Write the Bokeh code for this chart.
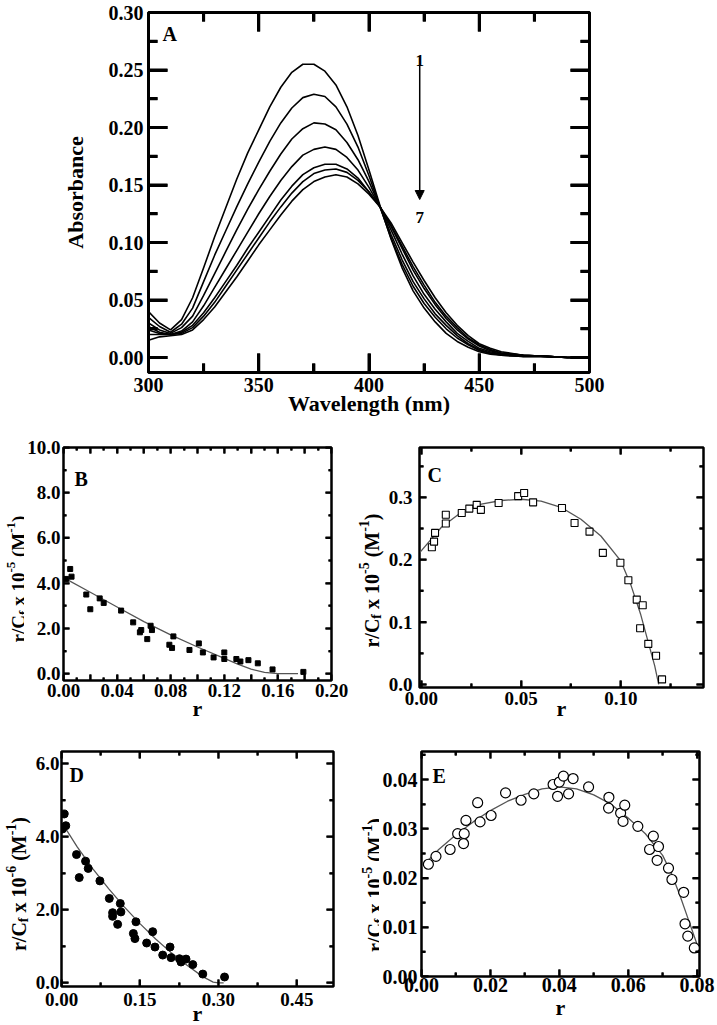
import math
from bokeh.plotting import figure
from bokeh.models import (Range1d, FixedTicker, Label, Arrow, NormalHead, PrintfTickFormatter,
                          LinearAxis)
from bokeh.core.properties import value
from bokeh.layouts import column, row
from bokeh.embed import file_html
from bokeh.resources import INLINE

FONT = "Liberation Serif"

# ---------------- Panel A : absorption spectra ----------------
wavelength = [300, 305, 310, 315, 320, 325, 330, 335, 340, 345, 350, 355, 360, 365, 370,
              375, 380, 385, 390, 395, 400, 405, 410, 415, 420, 425, 430, 435, 440, 445,
              450, 455, 460, 470, 480, 490, 500]
abs_1 = [0.040, 0.030, 0.024, 0.033, 0.052, 0.078, 0.105, 0.130, 0.155, 0.178, 0.198, 0.218,
         0.235, 0.248, 0.255, 0.255, 0.249, 0.237, 0.218, 0.193, 0.163, 0.132, 0.103, 0.078,
         0.058, 0.043, 0.031, 0.021, 0.014, 0.009, 0.005, 0.003, 0.002, 0.001, 0.001, 0.0, 0.0]
abs_2 = [0.035, 0.027, 0.022, 0.029, 0.043, 0.066, 0.089, 0.110, 0.131, 0.151, 0.170, 0.188,
         0.204, 0.217, 0.226, 0.229, 0.227, 0.218, 0.203, 0.183, 0.158, 0.131, 0.104, 0.081,
         0.062, 0.047, 0.035, 0.025, 0.017, 0.011, 0.006, 0.004, 0.002, 0.001, 0.001, 0.0, 0.0]
abs_3 = [0.030, 0.024, 0.021, 0.026, 0.036, 0.054, 0.073, 0.092, 0.111, 0.129, 0.146, 0.162,
         0.177, 0.190, 0.199, 0.204, 0.203, 0.198, 0.187, 0.172, 0.153, 0.131, 0.107, 0.085,
         0.066, 0.051, 0.038, 0.028, 0.019, 0.012, 0.007, 0.004, 0.003, 0.001, 0.001, 0.0, 0.0]
abs_4 = [0.027, 0.022, 0.020, 0.023, 0.031, 0.045, 0.061, 0.077, 0.093, 0.109, 0.125, 0.140,
         0.154, 0.166, 0.176, 0.181, 0.183, 0.181, 0.174, 0.163, 0.148, 0.131, 0.111, 0.090,
         0.071, 0.055, 0.042, 0.031, 0.021, 0.014, 0.008, 0.005, 0.003, 0.002, 0.001, 0.0, 0.0]
abs_5 = [0.024, 0.021, 0.020, 0.022, 0.028, 0.039, 0.052, 0.066, 0.080, 0.095, 0.109, 0.123,
         0.137, 0.149, 0.159, 0.165, 0.168, 0.168, 0.164, 0.156, 0.144, 0.131, 0.114, 0.095,
         0.076, 0.060, 0.046, 0.034, 0.024, 0.016, 0.010, 0.006, 0.004, 0.002, 0.001, 0.0, 0.0]
abs_6 = [0.020, 0.020, 0.020, 0.021, 0.026, 0.036, 0.048, 0.062, 0.076, 0.090, 0.104, 0.118,
         0.131, 0.143, 0.153, 0.160, 0.163, 0.164, 0.161, 0.154, 0.144, 0.131, 0.115, 0.097,
         0.079, 0.063, 0.048, 0.036, 0.026, 0.017, 0.011, 0.007, 0.004, 0.002, 0.001, 0.0, 0.0]
abs_7 = [0.015, 0.018, 0.019, 0.020, 0.024, 0.033, 0.044, 0.057, 0.070, 0.084, 0.098, 0.111,
         0.124, 0.136, 0.146, 0.153, 0.157, 0.159, 0.157, 0.151, 0.142, 0.131, 0.117, 0.100,
         0.083, 0.067, 0.052, 0.039, 0.028, 0.019, 0.012, 0.008, 0.005, 0.002, 0.001, 0.0, 0.0]
spectra = [abs_1, abs_2, abs_3, abs_4, abs_5, abs_6, abs_7]
arrow_wl = 423
arrow_from, arrow_to = 0.2538, 0.1374
label_1_y, label_7_y = 0.258, 0.1214
A_xticks, A_xminor = [300, 350, 400, 450, 500], [325, 375, 425, 475]
A_yticks = [0.0, 0.05, 0.10, 0.15, 0.20, 0.25, 0.30]
A_yminor = [0.025, 0.075, 0.125, 0.175, 0.225, 0.275]

# ---------------- Panel B ----------------
r_B = [0.002, 0.005, 0.006, 0.017, 0.020, 0.027, 0.030, 0.043, 0.052, 0.057, 0.058, 0.0625,
       0.065, 0.066, 0.079, 0.081, 0.082, 0.094, 0.101, 0.104, 0.112, 0.120, 0.120, 0.129,
       0.132, 0.138, 0.145, 0.156, 0.179]
y_B = [4.19, 4.63, 4.29, 3.50, 2.85, 3.33, 3.13, 2.79, 2.27, 1.83, 1.93, 1.53, 2.12, 1.93,
       1.28, 1.14, 1.65, 1.05, 1.34, 0.94, 0.72, 0.94, 0.65, 0.65, 0.54, 0.60, 0.46, 0.19, 0.08]
r_B_fit = [0.0, 0.02, 0.04, 0.06, 0.08, 0.10, 0.12, 0.13, 0.14, 0.15, 0.16, 0.175]
y_B_fit = [4.25, 3.6, 2.95, 2.3, 1.72, 1.18, 0.68, 0.42, 0.2, 0.06, 0.005, 0.0]
B_xmajor = [0.0, 0.02, 0.04, 0.06, 0.08, 0.10, 0.12, 0.14, 0.16, 0.18, 0.20]
B_xunlabelled = [0.02, 0.06, 0.10, 0.14, 0.18]
B_xminor = [0.01, 0.03, 0.05, 0.07, 0.09, 0.11, 0.13, 0.15, 0.17, 0.19]
B_yticks, B_yminor = [0.0, 2.0, 4.0, 6.0, 8.0, 10.0], [1.0, 3.0, 5.0, 7.0, 9.0]

# ---------------- Panel C ----------------
r_C = [0.0052, 0.0063, 0.0068, 0.0122, 0.0122, 0.0202, 0.024, 0.0277, 0.0298, 0.0387, 0.0485,
       0.0515, 0.056, 0.0705, 0.0768, 0.0843, 0.091, 0.0998, 0.1038, 0.108, 0.111, 0.1097,
       0.1138, 0.1177, 0.1207]
y_C = [0.220, 0.229, 0.243, 0.272, 0.258, 0.275, 0.282, 0.288, 0.280, 0.291, 0.302, 0.307,
       0.292, 0.283, 0.259, 0.245, 0.211, 0.195, 0.167, 0.136, 0.127, 0.090, 0.065, 0.046, 0.008]
r_C_fit = [-0.001, 0.01, 0.02, 0.03, 0.04, 0.05, 0.06, 0.07, 0.08, 0.09, 0.10, 0.105, 0.11,
           0.114, 0.117, 0.119]
y_C_fit = [0.211, 0.252, 0.276, 0.289, 0.295, 0.297, 0.294, 0.284, 0.265, 0.238, 0.198, 0.160,
           0.112, 0.065, 0.030, 0.0]
C_xticks, C_xminor = [0.0, 0.05, 0.10], [0.025, 0.075, 0.125]
C_yticks, C_yminor = [0.0, 0.1, 0.2, 0.3], [0.05, 0.15, 0.25, 0.35]

# ---------------- Panel D ----------------
r_D = [0.0052, 0.0082, 0.0019, 0.0287, 0.0339, 0.046, 0.0511, 0.0734, 0.0914, 0.0977, 0.0977,
       0.1073, 0.1124, 0.1136, 0.1374, 0.1404, 0.1423, 0.1628, 0.1743, 0.1787, 0.1935, 0.2075,
       0.2094, 0.2255, 0.2285, 0.2381, 0.251, 0.2701, 0.3117]
y_D = [4.62, 4.30, 4.21, 3.51, 2.88, 3.33, 3.13, 2.79, 2.31, 1.92, 1.82, 1.60, 2.17, 1.94,
       1.35, 1.21, 1.67, 1.09, 1.40, 0.98, 0.76, 0.98, 0.69, 0.66, 0.57, 0.65, 0.50, 0.24, 0.16]
r_D_fit = [0.0, 0.03, 0.06, 0.09, 0.12, 0.15, 0.18, 0.21, 0.24, 0.27, 0.29, 0.30, 0.31]
y_D_fit = [4.4, 3.72, 3.12, 2.58, 2.08, 1.62, 1.2, 0.82, 0.48, 0.17, 0.02, 0.0, 0.0]
D_xticks, D_xminor = [0.0, 0.15, 0.30, 0.45], [0.075, 0.225, 0.375]
D_yticks, D_yminor = [0.0, 2.0, 4.0, 6.0], [1.0, 3.0, 5.0]

# ---------------- Panel E ----------------
r_E = [0.0020, 0.0042, 0.0083, 0.0105, 0.0124, 0.0122, 0.0129, 0.0163, 0.0170, 0.0202, 0.0244,
       0.0289, 0.0326, 0.0382, 0.0395, 0.0400, 0.0412, 0.0427, 0.0440, 0.0485, 0.0544, 0.0543,
       0.0578, 0.0590, 0.0585, 0.0628, 0.0662, 0.0673, 0.0688, 0.0684, 0.0717, 0.0727, 0.0761,
       0.0765, 0.0773, 0.0792]
y_E = [0.0228, 0.0244, 0.0258, 0.0290, 0.0290, 0.0270, 0.0317, 0.0353, 0.0314, 0.0327, 0.0373,
       0.0358, 0.0371, 0.0390, 0.0366, 0.0395, 0.0407, 0.0371, 0.0402, 0.0385, 0.0364, 0.0342,
       0.0332, 0.0348, 0.0315, 0.0305, 0.0258, 0.0285, 0.0264, 0.0236, 0.0220, 0.0197, 0.0171,
       0.0107, 0.0082, 0.0058]
r_E_fit = [0.0, 0.005, 0.01, 0.015, 0.02, 0.025, 0.03, 0.035, 0.04, 0.045, 0.05, 0.055, 0.06,
           0.065, 0.0675, 0.07, 0.0725, 0.075, 0.0775, 0.08]
y_E_fit = [0.0222, 0.0258, 0.0288, 0.0314, 0.0337, 0.0356, 0.0370, 0.0381, 0.0385, 0.0381,
           0.0369, 0.0350, 0.0322, 0.0290, 0.0268, 0.0246, 0.0210, 0.0165, 0.0115, 0.0065]
E_xticks, E_xminor = [0.0, 0.02, 0.04, 0.06, 0.08], [0.01, 0.03, 0.05, 0.07]
E_yticks = [0.0, 0.01, 0.02, 0.03, 0.04]
E_yminor = [0.005, 0.015, 0.025, 0.035, 0.045]

# ---------------- helpers ----------------
WID = {' ': 0.25, 'r': 0.444, '/': 0.278, 'C': 0.722, 'f': 0.333, 'x': 0.5, '-': 0.333,
       '(': 0.333, ')': 0.333, 'M': 0.944}


def text_width(s, size):
    return sum(WID.get(c, 0.5) for c in s) * size


def style_axis(ax, font_px, standoff, ticks, tick_w, show=True):
    ax.axis_line_color = "black"
    ax.axis_line_width = 1
    ax.major_tick_in = ticks[0]
    ax.major_tick_out = 0
    ax.minor_tick_in = ticks[1]
    ax.minor_tick_out = 0
    ax.major_tick_line_width = tick_w
    ax.minor_tick_line_width = tick_w
    ax.major_tick_line_color = "black"
    ax.minor_tick_line_color = "black"
    ax.major_label_text_font = FONT
    ax.major_label_text_font_style = "bold"
    ax.major_label_text_color = "black"
    ax.major_label_text_font_size = f"{font_px}px" if show else "1px"
    ax.major_label_standoff = standoff if show else 0
    ax.axis_label_text_font = FONT
    ax.axis_label_text_font_style = "bold"
    ax.axis_label_text_color = "black"


def make_panel(xr, yr, xt, xm, yt, ym, xfmt, yfmt, frame, border, font_px, xstand, ystand,
               outline_w, ticks, tick_w, x_blank=()):
    p = figure(x_range=Range1d(*xr), y_range=Range1d(*yr),
               frame_width=frame[0], frame_height=frame[1],
               min_border_left=border[0], min_border_right=border[1],
               min_border_top=border[2], min_border_bottom=border[3],
               output_backend="svg", toolbar_location=None, tools="")
    p.grid.visible = False
    p.outline_line_color = "black"
    p.outline_line_width = outline_w
    xtk = FixedTicker(ticks=xt, minor_ticks=xm)
    ytk = FixedTicker(ticks=yt, minor_ticks=ym)
    p.xaxis[0].ticker = xtk
    p.yaxis[0].ticker = ytk
    p.xaxis[0].formatter = PrintfTickFormatter(format=xfmt)
    p.yaxis[0].formatter = PrintfTickFormatter(format=yfmt)
    if x_blank:
        p.xaxis[0].major_label_overrides = {t: "" for t in x_blank}
    style_axis(p.xaxis[0], font_px, xstand, ticks, tick_w)
    style_axis(p.yaxis[0], font_px, ystand, ticks, tick_w)
    top = LinearAxis(ticker=xtk, major_label_overrides={t: "" for t in xt})
    style_axis(top, font_px, 0, ticks, tick_w, show=False)
    p.add_layout(top, "above")
    right = LinearAxis(ticker=ytk, major_label_overrides={t: "" for t in yt})
    style_axis(right, font_px, 0, ticks, tick_w, show=False)
    p.add_layout(right, "right")
    p.xaxis[0].axis_label = None
    return p, p.below[0], p.left[0]


def add_tick_lines(p, frame, xmaj, xmin, ymaj, ymin, lmaj, lmin, w):
    # inward tick marks on all four frame sides (drawn as line glyphs as well)
    x0, x1 = p.x_range.start, p.x_range.end
    y0, y1 = p.y_range.start, p.y_range.end
    px_x = (x1 - x0) / frame[0]
    px_y = (y1 - y0) / frame[1]
    xs_all, ys_all = [], []
    for xs, ln in ((xmaj, lmaj), (xmin, lmin)):
        for x in xs:
            xs_all += [[x, x], [x, x]]
            ys_all += [[y0, y0 + ln * px_y], [y1, y1 - ln * px_y]]
    for ys, ln in ((ymaj, lmaj), (ymin, lmin)):
        for y in ys:
            xs_all += [[x0, x0 + ln * px_x], [x1, x1 - ln * px_x]]
            ys_all += [[y, y], [y, y]]
    p.multi_line(xs_all, ys_all, line_color="black", line_width=w)


def add_text(p, x, y, text, size, dx=0.0, dy=0.0, align="left"):
    p.add_layout(Label(x=x, y=y, x_offset=dx, y_offset=dy, text=text, text_font=FONT,
                       text_font_style="bold", text_font_size=f"{size}px",
                       text_align=align, text_baseline="alphabetic", text_color="black"))


def add_letter(p, letter, dx, dy):
    add_text(p, p.x_range.start, p.y_range.end, letter, 20, dx=dx, dy=dy)


def ylabel_figure(width, height, exponent, x_base, y_center, size_main, size_small):
    f = figure(x_range=Range1d(0, width), y_range=Range1d(0, height),
               frame_width=width, frame_height=height, min_border=0,
               min_border_left=0, min_border_right=0, min_border_top=0, min_border_bottom=0,
               x_axis_type=None, y_axis_type=None, output_backend="svg",
               toolbar_location=None, tools="")
    f.grid.visible = False
    f.outline_line_color = None
    parts = [("r/C", "main"), ("f", "sub"), (" x 10", "main"), (exponent, "sup"),
             (" (M", "main"), ("-1", "sup"), (")", "main")]
    sizes = [size_main if k == "main" else size_small for _, k in parts]
    widths = [text_width(t, s) for (t, _), s in zip(parts, sizes)]
    pos = y_center - sum(widths) / 2.0
    for (t, k), s in zip(parts, sizes):
        stripped = t.lstrip(" ")
        pos += text_width(t[:len(t) - len(stripped)], s)
        shift = {"main": 0.0, "sub": 0.24 * size_main, "sup": -0.38 * size_main}[k]
        f.text(x=[x_base + shift], y=[pos], text=[stripped], angle=math.pi / 2,
               text_font=value(FONT), text_font_style="bold", text_font_size=f"{s}px",
               text_align="left", text_baseline="alphabetic", text_color="black")
        pos += text_width(stripped, s)
    return f


def set_rlabel(ax, standoff):
    ax.axis_label = "r"
    ax.axis_label_text_font_size = "22px"
    ax.axis_label_standoff = standoff


# ---------------- Panel A ----------------
frame_A = (441, 360)
pA, axA_x, axA_y = make_panel((300, 500), (-0.013, 0.30), A_xticks, A_xminor, A_yticks,
                              A_yminor, "%d", "%.2f", frame_A, (148, 127, 12, 60), 20, 5, 5,
                              3, (19, 9), 3)
for ys in spectra:
    pA.line(wavelength, ys, line_color="black", line_width=1.6)
add_tick_lines(pA, frame_A, A_xticks, A_xminor, A_yticks, A_yminor, 19, 9, 3)
axA_x.axis_label = "Wavelength (nm)"
axA_y.axis_label = "Absorbance"
axA_x.axis_label_text_font_size = "22px"
axA_y.axis_label_text_font_size = "22px"
axA_x.axis_label_standoff = -4
axA_y.axis_label_standoff = 18
pA.add_layout(Arrow(x_start=arrow_wl, y_start=arrow_from, x_end=arrow_wl, y_end=arrow_to,
                    line_color="black", line_width=1.5,
                    end=NormalHead(size=9, fill_color="black", line_color="black")))
add_text(pA, arrow_wl, label_1_y, "1", 17, align="center")
add_text(pA, arrow_wl, label_7_y, "7", 17, align="center")
add_letter(pA, "A", 14, -21)

# ---------------- Panel B ----------------
frame_B = (268, 233)
pB, axB_x, _ = make_panel((0.0, 0.2), (-0.3, 10.0), B_xmajor, B_xminor, B_yticks, B_yminor,
                          "%.2f", "%.1f", frame_B, (38, 20, 15, 50), 19, 3, 3, 2.5, (6, 3), 2,
                          x_blank=B_xunlabelled)
pB.line(r_B_fit, y_B_fit, line_color="#555555", line_width=1.3)
pB.scatter(r_B, y_B, marker="square", size=5, fill_color="black", line_color="black")
add_tick_lines(pB, frame_B, B_xmajor, B_xminor, B_yticks, B_yminor, 6, 3, 2)
set_rlabel(axB_x, -4)
add_letter(pB, "B", 11, -31)
labB = ylabel_figure(24, 298, "-5", 18, 298 - (563.5 - 432), 19, 13)

# ---------------- Panel C ----------------
frame_C = (284, 240)
pC, axC_x, _ = make_panel((-0.001, 0.1415), (-0.005, 0.38), C_xticks, C_xminor, C_yticks,
                          C_yminor, "%.2f", "%.1f", frame_C, (33, 15, 13, 45), 19, 4, 7, 2.5,
                          (7, 4), 2)
pC.line(r_C_fit, y_C_fit, line_color="#555555", line_width=1.3)
pC.scatter(r_C, y_C, marker="square", size=7, fill_color="white", line_color="black",
           line_width=1.1)
add_tick_lines(pC, frame_C, C_xticks, C_xminor, C_yticks, C_yminor, 7, 4, 2)
set_rlabel(axC_x, -12)
add_letter(pC, "C", 8, -27)
labC = ylabel_figure(34, 298, "-5", 20, 298 - (565 - 432), 20, 14)

# ---------------- Panel D ----------------
frame_D = (272, 235)
pD, axD_x, _ = make_panel((0.0, 0.52), (-0.1, 6.33), D_xticks, D_xminor, D_yticks, D_yminor,
                          "%.2f", "%.1f", frame_D, (28, 18, 15, 44), 19, 6, 2, 2.5, (7, 4), 2)
pD.line(r_D_fit, y_D_fit, line_color="#555555", line_width=1.3)
pD.scatter(r_D, y_D, marker="circle", size=8, fill_color="black", line_color="black")
add_tick_lines(pD, frame_D, D_xticks, D_xminor, D_yticks, D_yminor, 7, 4, 2)
set_rlabel(axD_x, -8)
add_letter(pD, "D", 8, -23)
labD = ylabel_figure(32, 294, "-6", 18, 294 - (862.5 - 730), 20, 14)

# ---------------- Panel E ----------------
frame_E = (278, 225)
pE, axE_x, _ = make_panel((0.0, 0.0807), (0.0, 0.0457), E_xticks, E_xminor, E_yticks,
                          E_yminor, "%.2f", "%.2f", frame_E, (39, 21, 21, 48), 20, 1, 4, 2.5,
                          (7, 4), 2)
pE.line(r_E_fit, y_E_fit, line_color="#555555", line_width=1.3)
pE.scatter(r_E, y_E, marker="circle", size=10, fill_color="white", line_color="black",
           line_width=1.2)
add_tick_lines(pE, frame_E, E_xticks, E_xminor, E_yticks, E_yminor, 7, 4, 2)
set_rlabel(axE_x, 0)
add_letter(pE, "E", 11, -24)
labE = ylabel_figure(28, 294, "-5", 23, 294 - (863.5 - 730), 20, 14)

layout = column(pA, row(labB, pB, labC, pC), row(labD, pD, labE, pE))
open("out.html", "w").write(file_html(layout, INLINE))
